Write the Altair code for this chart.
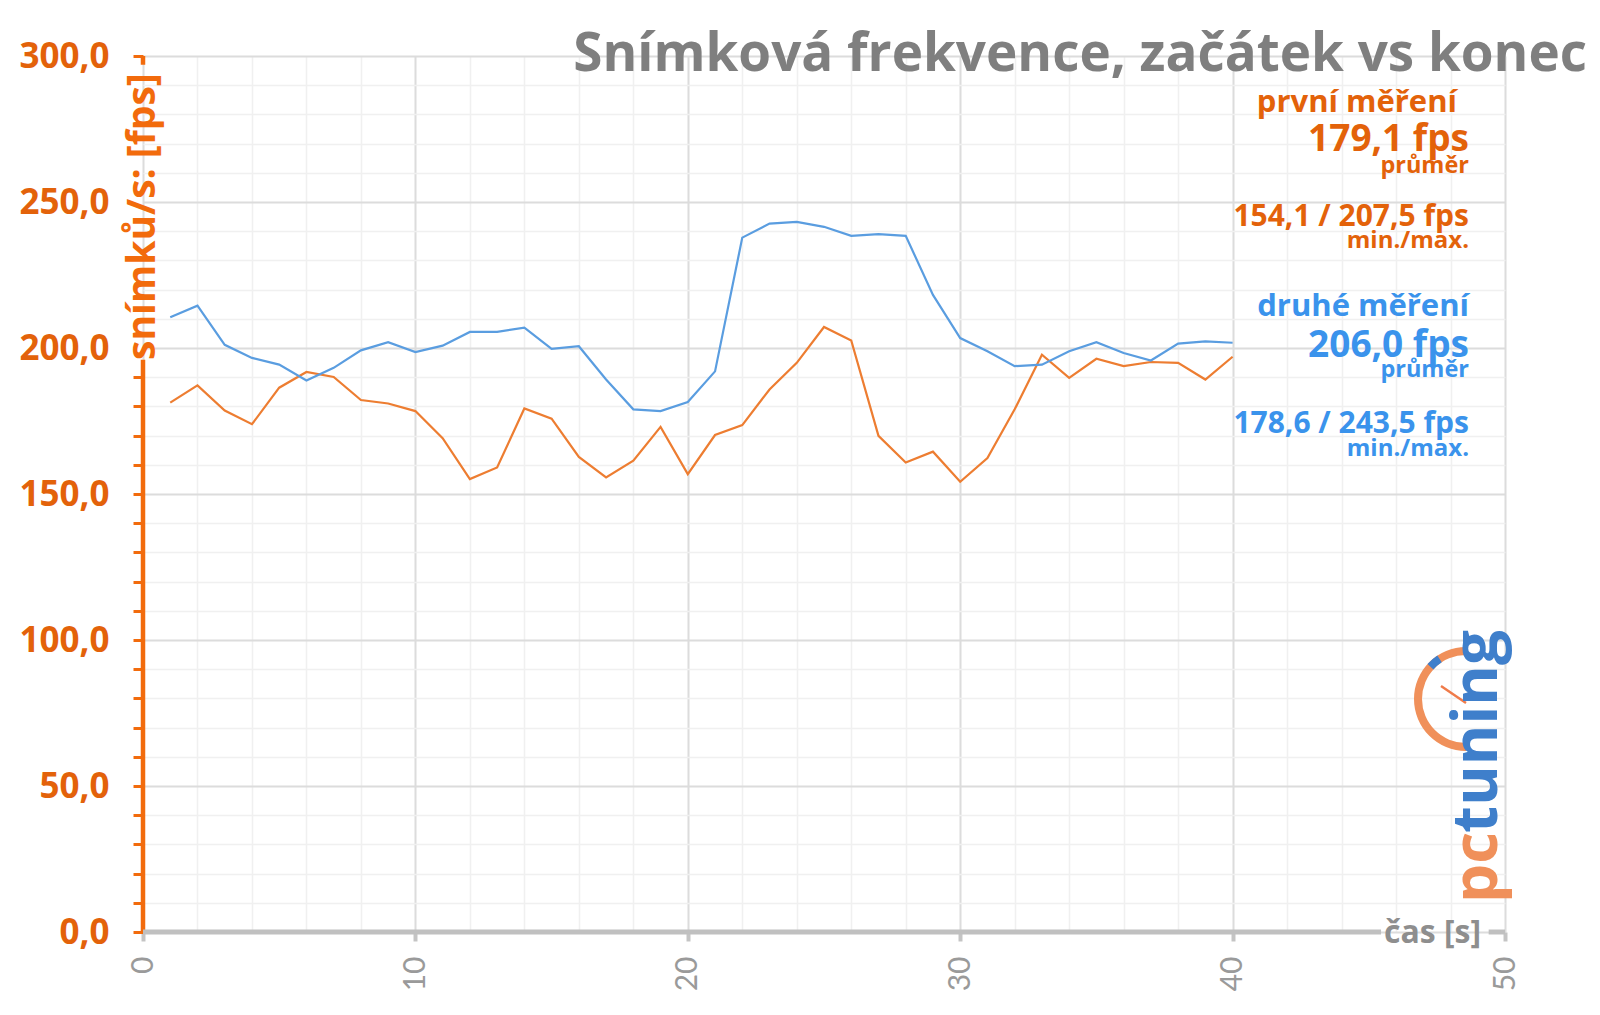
import altair as alt
import pandas as pd
import math

# ---------------- data ----------------
seconds = list(range(1, 41))
prvni = [181.3, 187.2, 178.6, 173.9, 186.4, 191.8, 190.1, 182.2, 181.0, 178.4,
         169.1, 155.1, 159.1, 179.3, 175.8, 162.7, 155.7, 161.4, 173.0, 156.8,
         170.2, 173.6, 185.8, 194.9, 207.2, 202.6, 169.9, 160.8, 164.5, 154.2,
         162.3, 179.0, 197.7, 189.8, 196.3, 193.8, 195.2, 194.9, 189.2, 197.0]
druhe = [210.5, 214.5, 201.1, 196.6, 194.3, 188.9, 193.2, 199.2, 202.0, 198.6,
         200.8, 205.5, 205.5, 207.0, 199.7, 200.6, 189.2, 179.0, 178.4, 181.5,
         192.0, 237.8, 242.6, 243.2, 241.5, 238.4, 239.0, 238.4, 218.2, 203.4,
         198.9, 193.8, 194.3, 198.9, 202.0, 198.3, 195.7, 201.5, 202.3, 201.8]
series_names = ["první měření", "druhé měření"]

title_text = "Snímková frekvence, začátek vs konec"
y_title = "snímků/s: [fps]"
x_title = "čas [s]"
x_tick_values = list(range(0, 51, 2))
y_tick_values = list(range(0, 301, 10))

ann_texts = ["první měření", "179,1 fps", "průměr", "154,1 / 207,5 fps", "min./max.",
             "druhé měření", "206,0 fps", "průměr", "178,6 / 243,5 fps", "min./max."]
ann_series = [0, 0, 0, 0, 0, 1, 1, 1, 1, 1]

# ---------------- styles ----------------
ann_size = [31, 37, 23.5, 30, 24, 31, 37, 23.5, 30, 24]
ann_base = [112, 151, 173, 226, 248, 316, 357, 377, 433, 456]   # baseline, px from top
ann_right = [1457, 1469, 1469, 1469, 1469, 1469, 1469, 1469, 1469, 1469]

W, H = 1362, 876
PL, PT = 143, 56
ORANGE_LINE = "#ed7d31"
BLUE_LINE = "#5a9de0"
ORANGE_TXT = "#e3620a"
BLUE_TXT = "#3a93ec"
AXIS_ORANGE = "#f26b0c"
FONT = "Open Sans"

rows = []
for s, a, b in zip(seconds, prvni, druhe):
    rows.append({"t": s, "fps": a, "serie": series_names[0]})
    rows.append({"t": s, "fps": b, "serie": series_names[1]})
df = pd.DataFrame(rows)

xscale = alt.Scale(domain=[0, 50], nice=False, zero=False)
yscale = alt.Scale(domain=[0, 300], nice=False)

x_axis = alt.Axis(
    values=x_tick_values,
    labelExpr="datum.value % 10 === 0 ? datum.label : ''",
    labelOverlap=False,
    labelAngle=270, labelFontSize=30, labelColor="#9a9a9a", labelFont="Lato",
    labelPadding=15,
    tickSize=9, tickWidth=4, tickColor="#c4c4c4",
    tickOpacity={"condition": {"test": "datum.value % 10 === 0", "value": 1}, "value": 0},
    domain=False,
    grid=True,
    gridColor={"condition": {"test": "datum.value % 10 === 0", "value": "#dcdcdc"}, "value": "#f0f0f0"},
    gridWidth={"condition": {"test": "datum.value % 10 === 0", "value": 2}, "value": 1.5},
    title=None,
)
y_axis = alt.Axis(
    values=y_tick_values,
    labelExpr="datum.value % 50 === 0 ? replace(format(datum.value, '.1f'), '.', ',') : ''",
    labelOverlap=False,
    labelFontSize=35, labelFontWeight="bold", labelColor=ORANGE_TXT, labelFont=FONT,
    labelPadding=24,
    tickSize=10, tickWidth=3, tickColor=AXIS_ORANGE,
    tickOpacity={"condition": {"test": "datum.value > 195 && datum.value < 300", "value": 0}, "value": 1},
    domain=False,
    grid=True,
    gridColor={"condition": {"test": "datum.value % 50 === 0", "value": "#dcdcdc"}, "value": "#f0f0f0"},
    gridWidth={"condition": {"test": "datum.value % 50 === 0", "value": 2}, "value": 1.5},
    title=None,
)

lines = alt.Chart(df).mark_line(strokeWidth=2.2).encode(
    x=alt.X("t:Q", scale=xscale, axis=x_axis),
    y=alt.Y("fps:Q", scale=yscale, axis=y_axis),
    color=alt.Color("serie:N", scale=alt.Scale(domain=series_names, range=[ORANGE_LINE, BLUE_LINE]), legend=None),
    detail="serie:N",
)

# axis lines drawn by hand so the titles can interrupt them
ylines = pd.DataFrame({"y0": [0, 297], "y1": [196, 300]})
y_domain = alt.Chart(ylines).mark_rule(color=AXIS_ORANGE, strokeWidth=4.5).encode(
    x=alt.datum(0, scale=xscale, axis=x_axis),
    y=alt.Y("y0:Q", scale=yscale, axis=y_axis), y2="y1:Q")
xlines = pd.DataFrame({"x0": [0, 49.4], "x1": [45.45, 50]})
x_domain = alt.Chart(xlines).mark_rule(color="#c0c0c0", strokeWidth=5).encode(
    y=alt.datum(0, scale=yscale, axis=y_axis),
    x=alt.X("x0:Q", scale=xscale, axis=x_axis), x2="x1:Q")

y_title_mark = alt.Chart(pd.DataFrame({"t": [y_title]})).mark_text(
    angle=270, align="left", baseline="middle", fontSize=39, fontWeight="bold",
    font=FONT, color=AXIS_ORANGE, dx=-2
).encode(x=alt.datum(0, scale=xscale, axis=x_axis), y=alt.value(358 - PT), text="t:N")

x_title_mark = alt.Chart(pd.DataFrame({"t": [x_title]})).mark_text(
    align="left", baseline="middle", fontSize=32, fontWeight="bold",
    font=FONT, color="#8e8e8e", dy=1
).encode(x=alt.value(1384 - PL), y=alt.datum(0, scale=yscale, axis=y_axis), text="t:N")

title_mark = alt.Chart(pd.DataFrame({"t": [title_text]})).mark_text(
    align="right", baseline="alphabetic", fontSize=53, fontWeight="bold",
    font=FONT, color="#7f7f7f"
).encode(x=alt.value(1587 - PL), y=alt.value(71 - PT), text="t:N")

ann_df = pd.DataFrame({
    "txt": ann_texts,
    "col": [[ORANGE_TXT, BLUE_TXT][i] for i in ann_series],
    "size": ann_size,
    "yy": [b - PT for b in ann_base],
    "xx": [r - PL for r in ann_right],
})
ann = alt.Chart(ann_df).mark_text(
    align="right", baseline="alphabetic", fontWeight="bold", font=FONT
).encode(
    x=alt.X("xx:Q", scale=None),
    y=alt.Y("yy:Q", scale=None),
    text="txt:N",
    size=alt.Size("size:Q", scale=None, legend=None),
    color=alt.Color("col:N", scale=None, legend=None),
)

# pctuning watermark
logo_df = pd.DataFrame({"txt": ["pc", "tuning"], "yy": [903 - PT, 833 - PT], "col": ["#f0905a", "#3f7fcb"]})
logo = alt.Chart(logo_df).mark_text(
    angle=270, align="left", baseline="alphabetic", fontSize=62, fontWeight="bold", font=FONT
).encode(
    x=alt.value(1497 - PL),
    y=alt.Y("yy:Q", scale=None), text="txt:N",
    color=alt.Color("col:N", scale=None),
)
arc_df = pd.DataFrame({"a0": [math.pi, 5.45], "a1": [2 * math.pi, 5.7], "col": ["#f0905a", "#3f7fcb"]})
clock = alt.Chart(arc_df).mark_arc(radius=52, radius2=44).encode(
    x=alt.value(1466 - PL), y=alt.value(699 - PT),
    theta=alt.Theta("a0:Q", scale=None), theta2="a1:Q",
    color=alt.Color("col:N", scale=None),
)
needle = alt.Chart(pd.DataFrame({"k": [1]})).mark_rule(color="#ef7b4a", strokeWidth=2.5).encode(
    x=alt.value(1441 - PL), x2=alt.value(1466 - PL), y=alt.value(686 - PT), y2=alt.value(703 - PT))

chart = alt.layer(lines, y_domain, x_domain, y_title_mark, x_title_mark, title_mark, ann,
                  clock, needle, logo).resolve_scale(color="independent").properties(
    width=W, height=H,
    autosize=alt.AutoSizeParams(type="none"),
    padding={"left": PL, "top": PT, "right": 1600 - PL - W, "bottom": 1015 - PT - H},
    background="white",
).configure_view(stroke=None)

chart.save("out.html", embed_options={"renderer": "svg", "actions": False})
